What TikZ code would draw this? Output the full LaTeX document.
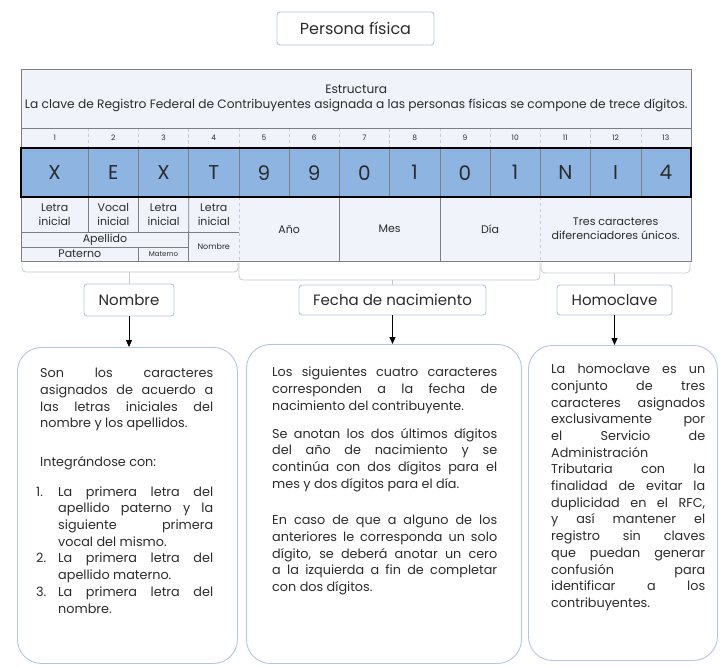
\documentclass[tikz,border=0pt]{standalone}
\usepackage{fontspec}
\setmainfont{Poppins}
\usetikzlibrary{arrows.meta,positioning,calc}

\definecolor{tblbg}{HTML}{F0F4FA}
\definecolor{tblline}{HTML}{7F7F7F}
\definecolor{keyblue}{HTML}{8EB4E2}
\definecolor{dashgrey}{HTML}{C8CAD0}
\definecolor{boxline}{HTML}{B4C5DF}
\definecolor{braceline}{HTML}{C6CAD0}
\definecolor{ink}{HTML}{2B2B2B}

\begin{document}
\begin{tikzpicture}[x=1pt, y=-1pt,
  cell/.style={rectangle, fill=tblbg, inner sep=0pt, anchor=north west, align=center, text=ink, font=\fontsize{11}{14}\selectfont},
  numcell/.style={cell, minimum height=20pt, draw=dashgrey, dashed, font=\fontsize{7.5}{9}\selectfont},
  keycell/.style={cell, fill=keyblue, draw=tblline, minimum height=49pt, font=\fontsize{20}{24}\selectfont},
  smallcell/.style={cell, font=\fontsize{8}{10}\selectfont},
  grid/.style={draw=tblline, line width=0.8pt},
  softgrid/.style={draw=dashgrey, dashed, line width=0.7pt},
  label box/.style={rectangle, rounded corners=3pt, draw=boxline, line width=0.9pt, fill=white, inner sep=0pt, text=ink, font=\fontsize{15}{18}\selectfont},
  info box/.style={rectangle, rounded corners=24pt, draw=boxline, line width=0.9pt, inner sep=0pt, anchor=north west},
  info text/.style={anchor=north west, inner sep=0pt, align=justify, text=ink, font=\fontsize{12.8}{16.7}\selectfont},
  brace/.style={draw=braceline, line width=0.8pt, rounded corners=4pt},
  >={Triangle[length=7pt,width=6pt]}
]
  \useasboundingbox (0,0) rectangle (721,667);

  \node[label box, minimum width=157pt, minimum height=33pt, font=\fontsize{16}{19}\selectfont] (title) at (355.5,28.5) {Persona física};

  % Table: header, positions and key letters
  \node[cell, minimum width=670pt, minimum height=59pt, font=\fontsize{12.2}{15}\selectfont] (head) at (21,69)
    {Estructura\\La clave de Registro Federal de Contribuyentes asignada a las personas físicas se compone de trece dígitos.};
  \foreach \i/\ch in {1/X,2/E,3/X,4/T,5/9,6/9,7/0,8/1,9/0,10/1,11/N,12/I,13/4} {
    \pgfmathsetmacro\colx{\i==1 ? 21 : 88+(\i-2)*50.23}
    \pgfmathsetmacro\colw{\i==1 ? 67 : 50.23}
    \node[numcell, minimum width=\colw pt] (n\i) at (\colx,128) {\i};
    \node[keycell, minimum width=\colw pt] (k\i) at (\colx,148) {\ch};
  }

  % Meaning of each group
  \node[cell, minimum width=67pt, minimum height=35pt] (d1) at (21,197) {Letra\\inicial};
  \node[cell, minimum width=50.23pt, minimum height=35pt] (d2) at (88,197) {Vocal\\inicial};
  \node[cell, minimum width=50.23pt, minimum height=35pt] (d3) at (138.23,197) {Letra\\inicial};
  \node[cell, minimum width=50.23pt, minimum height=35pt] (d4) at (188.46,197) {Letra\\inicial};
  \node[cell, minimum width=167.46pt, minimum height=15pt] (ape) at (21,232) {Apellido};
  \node[cell, minimum width=117.23pt, minimum height=14pt] (pat) at (21,247) {Paterno};
  \node[smallcell, minimum width=50.23pt, minimum height=14pt, font=\fontsize{7}{9}\selectfont] (mat) at (138.23,247) {Materno};
  \node[smallcell, minimum width=50.23pt, minimum height=29pt] (nomc) at (188.46,232) {Nombre};
  \node[cell, minimum width=100.46pt, minimum height=64pt] (ano) at (238.69,197) {Año};
  \node[cell, minimum width=100.46pt, minimum height=64pt] (mes) at (339.15,197) {Mes};
  \node[cell, minimum width=100.46pt, minimum height=64pt] (dia) at (439.61,197) {Día};
  \node[cell, minimum width=150.69pt, minimum height=64pt] (tres) at (540.07,197) {Tres caracteres\\diferenciadores únicos.};

  % Grid lines
  \draw[grid] (head.south west) -- (head.south east);
  \draw[grid] (d1.south west) -- (d4.south east);
  \draw[grid] (ape.south west) -- (ape.south east);
  \draw[grid] (d1.north east) -- (d1.south east);
  \draw[grid] (d2.north east) -- (d2.south east);
  \draw[grid] (d3.north east) -- (nomc.south west);
  \draw[grid] (pat.north east) -- (pat.south east);
  \draw[grid] (ano.north east) -- (ano.south east);
  \draw[grid] (mes.north east) -- (mes.south east);
  \draw[softgrid] (d4.north east) -- (nomc.south east);
  \draw[softgrid] (tres.north west) -- (tres.south west);
  \draw[grid] (head.north west) rectangle (tres.south east);
  \draw[line width=2pt, black] (k1.north west) rectangle (k13.south east);

  % Group labels
  \node[label box, minimum width=90pt, minimum height=32pt] (lnom) at (129,300) {Nombre};
  \node[label box, minimum width=187pt, minimum height=30pt] (lfec) at (392.5,300) {Fecha de nacimiento};
  \node[label box, minimum width=115pt, minimum height=30pt] (lhom) at (614.5,300) {Homoclave};

  % Braces under the table
  \coordinate (br1) at (129,272);
  \coordinate (br2) at (392.5,280);
  \coordinate (br3) at (614.5,273);
  \draw[brace] (22,263) |- (br1) -| (238,263);
  \draw[brace] (239,263) |- (br2) -| (540,263);
  \draw[brace] (541,263) |- (br3) -| (690,263);
  \draw[brace] (br1) -- (lnom);
  \draw[brace] (br2) -- (lfec);
  \draw[brace] (br3) -- (lhom);

  % Explanations
  \node[info box, minimum width=220pt, minimum height=316pt] (bnom) at (17,347) {};
  \node[info box, minimum width=275pt, minimum height=319pt] (bfec) at (246,344) {};
  \node[info box, minimum width=189pt, minimum height=315pt] (bhom) at (528,345) {};

  \draw[->, line width=0.9pt] (lnom) -- (lnom |- bnom.north);
  \draw[->, line width=0.9pt] (lfec) -- (lfec |- bfec.north);
  \draw[->, line width=0.9pt] (lhom) -- (lhom |- bhom.north);

  \node[info text, text width=173pt] (tnom) at (40,368) {%
    Son los caracteres\linebreak asignados de acuerdo a\linebreak las letras iniciales del\linebreak nombre y los apellidos.\par
    \vspace{22pt}Integrándose con:\par
    \vspace{13pt}\leftskip=18pt
    \noindent\llap{\makebox[22pt][l]{1.}}La primera letra del\linebreak apellido paterno y la\linebreak siguiente primera\linebreak vocal del mismo.\par
    \noindent\llap{\makebox[22pt][l]{2.}}La primera letra del\linebreak apellido materno.\par
    \noindent\llap{\makebox[22pt][l]{3.}}La primera letra del\linebreak nombre.\par};
  \node[info text, text width=225pt] (tfec) at (272,367) {%
    Los siguientes cuatro caracteres\linebreak corresponden a la fecha de\linebreak nacimiento del contribuyente.\par
    \vspace{11pt}Se anotan los dos últimos dígitos\linebreak del año de nacimiento y se\linebreak continúa con dos dígitos para el\linebreak mes y dos dígitos para el día.\par
    \vspace{20pt}En caso de que a alguno de los\linebreak anteriores le corresponda un solo\linebreak dígito, se deberá anotar un cero\linebreak a la izquierda a fin de completar\linebreak con dos dígitos.\par};
  \node[info text, text width=154pt] (thom) at (551,364) {%
    La homoclave es un\linebreak conjunto de tres\linebreak caracteres asignados\linebreak exclusivamente por\linebreak el Servicio de\linebreak Administración\linebreak Tributaria con la\linebreak finalidad de evitar la\linebreak duplicidad en el RFC,\linebreak y así mantener el\linebreak registro sin claves\linebreak que puedan generar\linebreak confusión para\linebreak identificar a los\linebreak contribuyentes.\par};
\end{tikzpicture}
\end{document}
